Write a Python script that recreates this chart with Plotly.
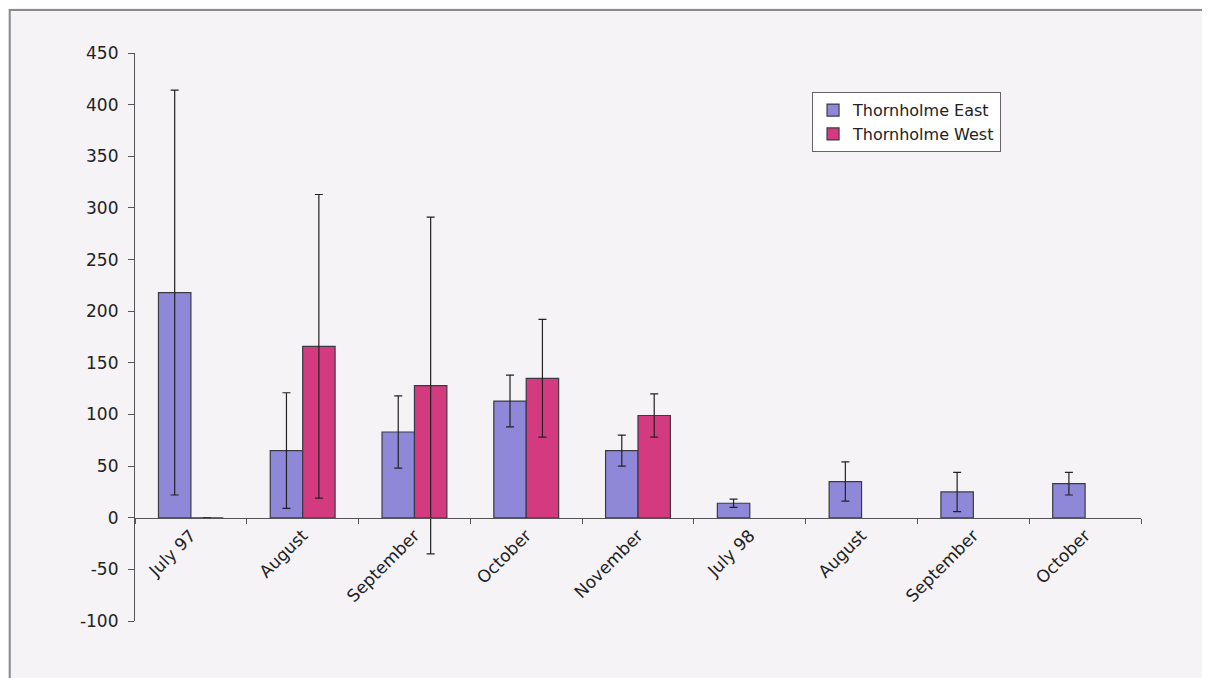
import plotly.graph_objects as go

months = ["July 97", "August", "September", "October", "November",
          "July 98", "August ", "September ", "October "]
tick_text = ["July 97", "August", "September", "October", "November",
             "July 98", "August", "September", "October"]

east_mean = [218, 65, 83, 113, 65, 14, 35, 25, 33]
east_err = [196, 56, 35, 25, 15, 4, 19, 19, 11]
west_mean = [0, 166, 128, 135, 99, None, None, None, None]
west_err = [0, 147, 163, 57, 21, None, None, None, None]

y_ticks = list(range(-100, 451, 50))
y_labels = [str(v) for v in y_ticks]  # plain hyphen minus, as in the original

font = "DejaVu Sans, Arial, sans-serif"
bg = "#f5f3f6"

fig = go.Figure()
fig.add_trace(go.Bar(
    name="Thornholme East", x=months, y=east_mean,
    marker=dict(color="#8f88d8", line=dict(color="#3a3a44", width=1.2)),
    error_y=dict(type="data", array=east_err, color="#222", thickness=1.2, width=4),
))
fig.add_trace(go.Bar(
    name="Thornholme West", x=months, y=west_mean,
    marker=dict(color="#d43a80", line=dict(color="#3a3a44", width=1.2)),
    error_y=dict(type="data", array=west_err, color="#222", thickness=1.2, width=4),
))

# the page body adds an 8px offset, so margins are shifted back by that
fig.update_layout(
    width=1210, height=678,
    margin=dict(l=127, r=77, t=45, b=65),
    paper_bgcolor=bg, plot_bgcolor=bg,
    barmode="group", bargap=0.42, bargroupgap=0,
    font=dict(family=font, size=17, color="#222"),
    showlegend=True,
    legend=dict(
        x=0.673, y=0.931, xanchor="left", yanchor="top",
        bgcolor="white", bordercolor="#666", borderwidth=1,
        font=dict(size=16, color="#222"),
        tracegroupgap=0, itemwidth=30,
    ),
    xaxis=dict(
        type="category", tickmode="array", tickvals=months, ticktext=tick_text,
        tickangle=-45, anchor="free", position=100 / 550,
        showline=True, linecolor="#555", linewidth=1.2,
        ticks="outside", ticklen=5, tickcolor="#555", tickson="boundaries",
        showgrid=False, zeroline=False,
    ),
    yaxis=dict(
        range=[-100, 450], tickmode="array", tickvals=y_ticks, ticktext=y_labels,
        showline=True, linecolor="#555", linewidth=1.2,
        ticks="outside", ticklen=6, tickcolor="#555", ticklabelstandoff=6,
        showgrid=False, zeroline=False,
    ),
    shapes=[dict(
        type="rect", xref="paper", yref="paper",
        x0=-0.1245, x1=1.0656, y0=-0.25, y1=1.0757,
        line=dict(color="#8a8a8a", width=2), layer="below",
    )],
)

fig.write_html("out.html")
